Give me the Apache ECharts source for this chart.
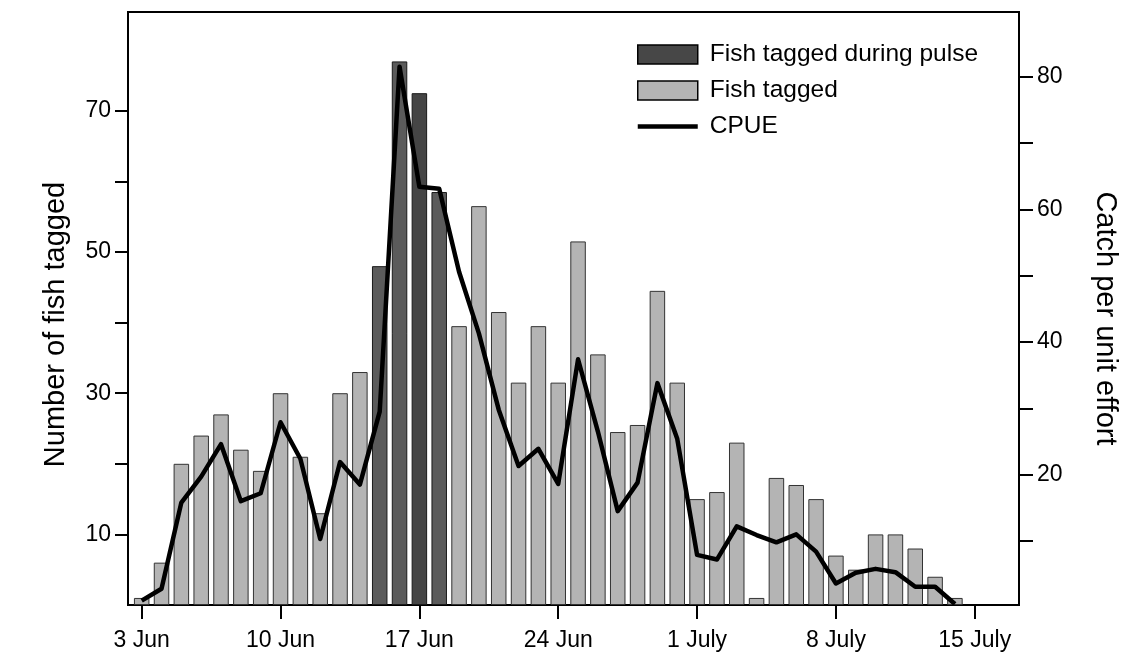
<!DOCTYPE html>
<html><head><meta charset="utf-8">
<script src="https://cdn.jsdelivr.net/npm/echarts@6/dist/echarts.min.js"></script>
<style>html,body{margin:0;padding:0;background:#fff}#c{width:1132px;height:654px}</style>
</head><body><div id="c"></div>
<script>
// Days from 3 June to 14 July
const days = ['3 Jun','4 Jun','5 Jun','6 Jun','7 Jun','8 Jun','9 Jun','10 Jun','11 Jun','12 Jun',
  '13 Jun','14 Jun','15 Jun','16 Jun','17 Jun','18 Jun','19 Jun','20 Jun','21 Jun','22 Jun',
  '23 Jun','24 Jun','25 Jun','26 Jun','27 Jun','28 Jun','29 Jun','30 Jun','1 July','2 July',
  '3 July','4 July','5 July','6 July','7 July','8 July','9 July','10 July','11 July','12 July',
  '13 July','14 July'];
// Number of fish tagged per day
const tagged = [1,6,20,24,27,22,19,30,21,13,
  30,33,48,77,72.5,58.5,39.5,56.5,41.5,31.5,
  39.5,31.5,51.5,35.5,24.5,25.5,44.5,31.5,15,16,
  23,1,18,17,15,7,5,10,10,8,
  4,1];
// Days belonging to the pulse
const pulseDays = ['15 Jun','16 Jun','17 Jun','18 Jun'];
const peakPulseDay = '17 Jun';
// Catch per unit effort per day
const cpue = [1.0,2.8,15.8,19.7,24.6,16.0,17.2,27.9,22.4,10.3,
  21.9,18.5,29.5,81.5,63.4,63.1,50.6,41.3,29.8,21.3,
  23.9,18.6,37.4,26.5,14.5,18.8,33.8,25.4,7.9,7.2,
  12.2,10.9,9.8,11.0,8.4,3.6,5.2,5.8,5.3,3.1,
  3.1,0.5];
// Tick labels
const xTickDays = [0,7,14,21,28,35,42];
const xTickLabels = ['3 Jun','10 Jun','17 Jun','24 Jun','1 July','8 July','15 July'];
const leftTicks = [10,20,30,40,50,60,70];
const leftLabels = [10,30,50,70];
const rightTicks = [10,20,30,40,50,60,70,80];
const rightLabels = [20,40,60,80];

const FONT = '"Liberation Sans", Arial, sans-serif';
const chart = echarts.init(document.getElementById('c'), null, {renderer:'canvas'});

const pulseData = [], normalData = [];
days.forEach((d, i) => {
  if (pulseDays.includes(d)) {
    const item = {value:[i, tagged[i]]};
    if (d === peakPulseDay) item.itemStyle = {color:'#454545'};
    pulseData.push(item);
  } else {
    normalData.push([i, tagged[i]]);
  }
});
const cpueData = days.map((d, i) => [i, cpue[i]]);

chart.setOption({
  animation:false,
  backgroundColor:'#fff',
  textStyle:{fontFamily:FONT, color:'#000'},
  grid:{left:128, right:113, top:12, bottom:49, show:true, borderColor:'#000', borderWidth:2, backgroundColor:'transparent'},
  legend:{
    orient:'vertical', left:637, top:42, padding:0, itemWidth:60, itemHeight:19, itemGap:11,
    textStyle:{fontSize:24.5, color:'#000', fontFamily:FONT, padding:[0,0,0,7]},
    data:[
      {name:'Fish tagged during pulse', icon:'rect', itemStyle:{color:'#474747', borderColor:'#000', borderWidth:1.5}},
      {name:'Fish tagged', icon:'rect', itemStyle:{color:'#b4b4b4', borderColor:'#000', borderWidth:1.5}},
      {name:'CPUE', icon:'path://M0,0 L60,0 L60,4.5 L0,4.5 Z', itemStyle:{color:'#000', borderWidth:0}}
    ]
  },
  xAxis:{
    type:'value', min:-0.69, max:44.23,
    axisLine:{show:true, onZero:false, lineStyle:{color:'#000', width:2}},
    axisTick:{show:true, length:14, inside:false, customValues:xTickDays, lineStyle:{color:'#000', width:2}},
    axisLabel:{customValues:xTickDays, fontSize:23, color:'#000', margin:24, fontFamily:FONT,
      formatter:v => { const k = xTickDays.indexOf(Math.round(v)); return k >= 0 ? xTickLabels[k] : ''; }},
    splitLine:{show:false}
  },
  yAxis:[{
    type:'value', min:0, max:84, position:'left',
    name:'Number of fish tagged', nameLocation:'middle', nameGap:58,
    nameTextStyle:{fontSize:29, color:'#000', fontFamily:FONT, padding:[0,32,0,0]},
    axisLine:{show:true, onZero:false, lineStyle:{color:'#000', width:2}},
    axisTick:{show:true, length:13, customValues:leftTicks, lineStyle:{color:'#000', width:2}},
    axisLabel:{customValues:leftLabels, fontSize:23, color:'#000', margin:17, fontFamily:FONT},
    splitLine:{show:false}
  },{
    type:'value', min:0.35, max:89.75, position:'right',
    name:'Catch per unit effort', nameLocation:'middle', nameGap:71, nameRotate:-90,
    nameTextStyle:{fontSize:29, color:'#000', fontFamily:FONT, padding:[0,0,0,20]},
    axisLine:{show:true, onZero:false, lineStyle:{color:'#000', width:2}},
    axisTick:{show:true, length:14, customValues:rightTicks, lineStyle:{color:'#000', width:2}},
    axisLabel:{customValues:rightLabels, fontSize:23, color:'#000', margin:18, fontFamily:FONT},
    splitLine:{show:false}
  }],
  series:[
    {name:'Fish tagged during pulse', type:'bar', barWidth:15.5, barGap:'-100%', data:pulseData,
     itemStyle:{color:'#5b5b5b', borderColor:'#1a1a1a', borderWidth:1}, z:2},
    {name:'Fish tagged', type:'bar', barWidth:15.5, barGap:'-100%', data:normalData,
     itemStyle:{color:'#b4b4b4', borderColor:'#333', borderWidth:1}, z:2},
    {name:'CPUE', type:'line', yAxisIndex:1, data:cpueData, symbol:'none', showSymbol:false,
     lineStyle:{color:'#000', width:4.5, join:'round'}, itemStyle:{color:'#000'}, z:5}
  ]
});
</script></body></html>
